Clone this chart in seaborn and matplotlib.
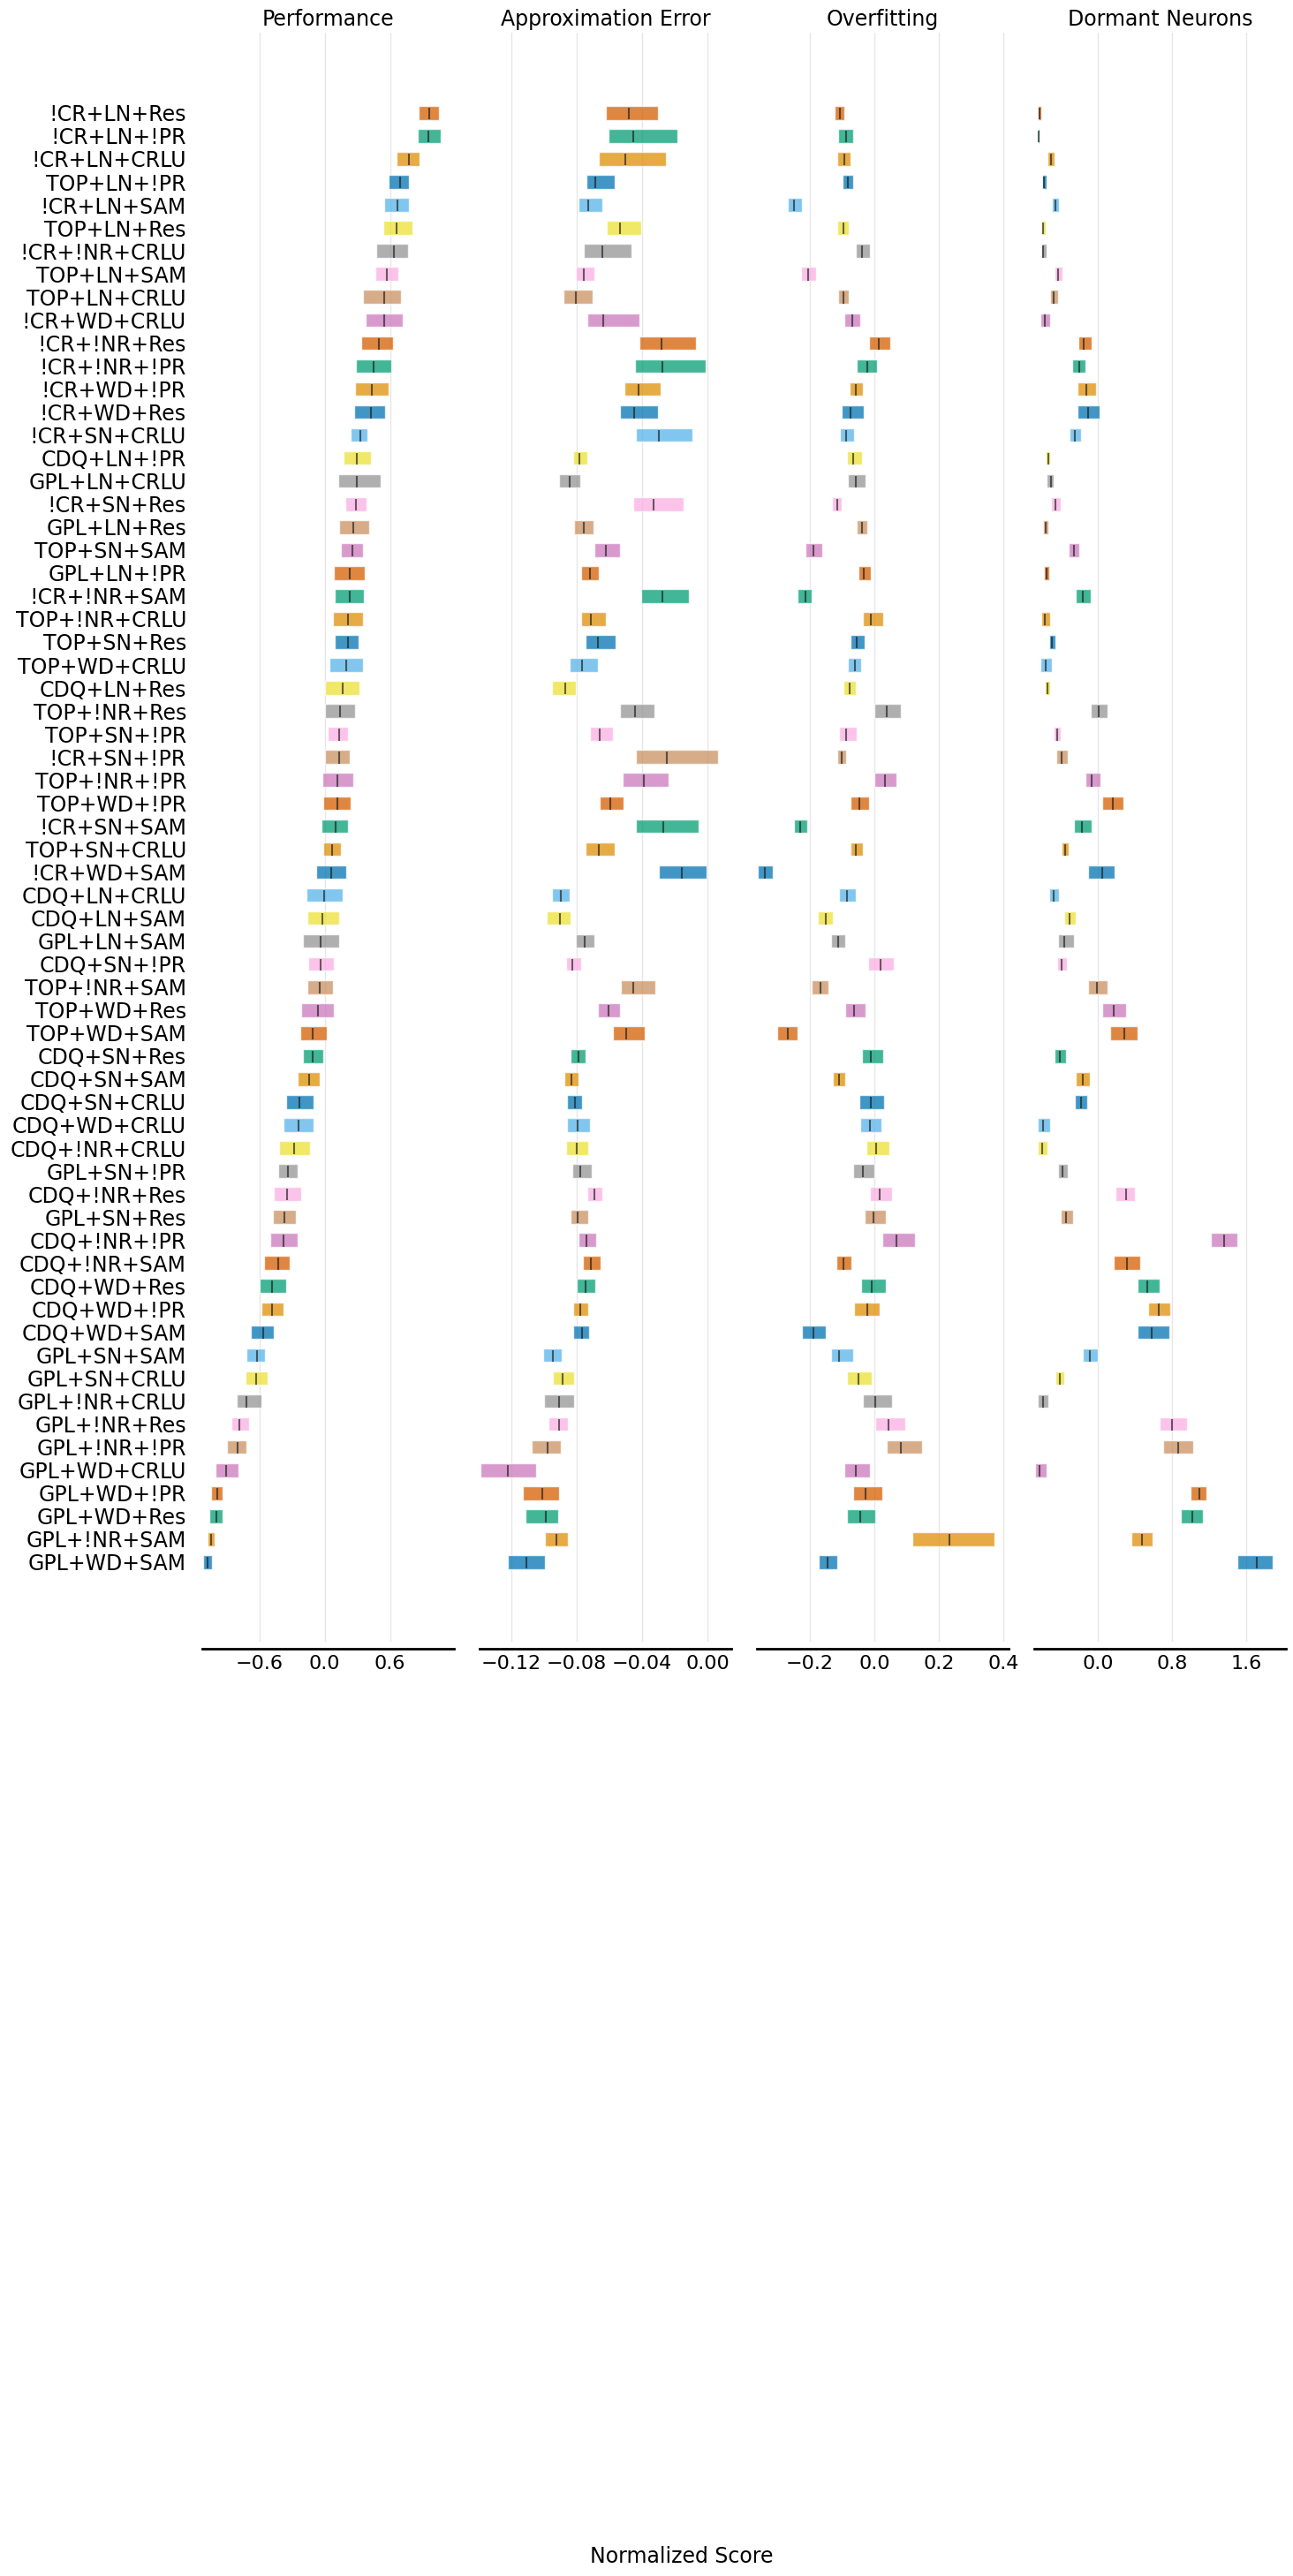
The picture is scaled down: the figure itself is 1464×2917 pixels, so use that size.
import numpy as np
import pandas as pd
import matplotlib
matplotlib.use("Agg")
import matplotlib.pyplot as plt
import seaborn as sns

# Algorithm combinations, listed top to bottom as in the chart
labels = [
    "!CR+LN+Res", "!CR+LN+!PR", "!CR+LN+CRLU", "TOP+LN+!PR", "!CR+LN+SAM",
    "TOP+LN+Res", "!CR+!NR+CRLU", "TOP+LN+SAM", "TOP+LN+CRLU", "!CR+WD+CRLU",
    "!CR+!NR+Res", "!CR+!NR+!PR", "!CR+WD+!PR", "!CR+WD+Res", "!CR+SN+CRLU",
    "CDQ+LN+!PR", "GPL+LN+CRLU", "!CR+SN+Res", "GPL+LN+Res", "TOP+SN+SAM",
    "GPL+LN+!PR", "!CR+!NR+SAM", "TOP+!NR+CRLU", "TOP+SN+Res", "TOP+WD+CRLU",
    "CDQ+LN+Res", "TOP+!NR+Res", "TOP+SN+!PR", "!CR+SN+!PR", "TOP+!NR+!PR",
    "TOP+WD+!PR", "!CR+SN+SAM", "TOP+SN+CRLU", "!CR+WD+SAM", "CDQ+LN+CRLU",
    "CDQ+LN+SAM", "GPL+LN+SAM", "CDQ+SN+!PR", "TOP+!NR+SAM", "TOP+WD+Res",
    "TOP+WD+SAM", "CDQ+SN+Res", "CDQ+SN+SAM", "CDQ+SN+CRLU", "CDQ+WD+CRLU",
    "CDQ+!NR+CRLU", "GPL+SN+!PR", "CDQ+!NR+Res", "GPL+SN+Res", "CDQ+!NR+!PR",
    "CDQ+!NR+SAM", "CDQ+WD+Res", "CDQ+WD+!PR", "CDQ+WD+SAM", "GPL+SN+SAM",
    "GPL+SN+CRLU", "GPL+!NR+CRLU", "GPL+!NR+Res", "GPL+!NR+!PR", "GPL+WD+CRLU",
    "GPL+WD+!PR", "GPL+WD+Res", "GPL+!NR+SAM", "GPL+WD+SAM",
]

# Performance: lower CI, upper CI, point estimate
perf_lo = [0.865, 0.857, 0.662, 0.589, 0.549, 0.541, 0.476, 0.468, 0.354, 0.378,
           0.338, 0.289, 0.281, 0.273, 0.241, 0.176, 0.127, 0.192, 0.135, 0.151,
           0.086, 0.095, 0.078, 0.095, 0.046, 0.005, 0.005, 0.030, 0.005, -0.019,
           -0.011, -0.027, -0.011, -0.076, -0.165, -0.157, -0.197, -0.149, -0.157, -0.214,
           -0.222, -0.197, -0.246, -0.351, -0.376, -0.424, -0.432, -0.465, -0.473, -0.505,
           -0.562, -0.595, -0.586, -0.676, -0.724, -0.732, -0.814, -0.862, -0.903, -1.008,
           -1.049, -1.065, -1.081, -1.122]
perf_hi = [1.051, 1.068, 0.873, 0.776, 0.776, 0.808, 0.768, 0.678, 0.703, 0.719,
           0.630, 0.614, 0.589, 0.557, 0.395, 0.427, 0.516, 0.386, 0.411, 0.354,
           0.370, 0.362, 0.354, 0.314, 0.354, 0.322, 0.281, 0.216, 0.232, 0.265,
           0.241, 0.216, 0.151, 0.200, 0.168, 0.135, 0.135, 0.086, 0.078, 0.086,
           0.022, -0.011, -0.043, -0.100, -0.100, -0.132, -0.246, -0.214, -0.262, -0.246,
           -0.319, -0.359, -0.376, -0.465, -0.546, -0.522, -0.586, -0.700, -0.724, -0.797,
           -0.943, -0.943, -1.016, -1.041]
perf_med = [0.962, 0.954, 0.776, 0.695, 0.670, 0.662, 0.638, 0.573, 0.549, 0.549,
            0.500, 0.451, 0.435, 0.427, 0.330, 0.297, 0.297, 0.289, 0.265, 0.257,
            0.232, 0.232, 0.216, 0.216, 0.200, 0.168, 0.143, 0.135, 0.135, 0.119,
            0.119, 0.103, 0.070, 0.062, -0.003, -0.019, -0.035, -0.035, -0.043, -0.059,
            -0.108, -0.108, -0.141, -0.230, -0.238, -0.278, -0.335, -0.343, -0.368, -0.376,
            -0.432, -0.481, -0.481, -0.570, -0.627, -0.635, -0.724, -0.789, -0.805, -0.911,
            -0.992, -1.000, -1.049, -1.081]

# Approximation Error
ae_lo = [-0.0623, -0.0607, -0.0667, -0.0742, -0.0791, -0.0618, -0.0759, -0.0807, -0.0883, -0.0737,
         -0.0418, -0.0445, -0.0510, -0.0537, -0.0440, -0.0823, -0.0910, -0.0456, -0.0818, -0.0694,
         -0.0775, -0.0407, -0.0775, -0.0748, -0.0845, -0.0953, -0.0537, -0.0721, -0.0440, -0.0521,
         -0.0661, -0.0440, -0.0748, -0.0299, -0.0953, -0.0986, -0.0807, -0.0867, -0.0532, -0.0672,
         -0.0580, -0.0840, -0.0877, -0.0861, -0.0861, -0.0867, -0.0829, -0.0737, -0.0840, -0.0791,
         -0.0764, -0.0802, -0.0823, -0.0823, -0.1007, -0.0948, -0.1002, -0.0975, -0.1077, -0.1391,
         -0.1132, -0.1115, -0.0996, -0.1223]
ae_hi = [-0.0305, -0.0186, -0.0256, -0.0569, -0.0645, -0.0407, -0.0467, -0.0694, -0.0705, -0.0418,
         -0.0072, -0.0013, -0.0288, -0.0305, -0.0094, -0.0737, -0.0780, -0.0148, -0.0699, -0.0537,
         -0.0667, -0.0115, -0.0623, -0.0564, -0.0672, -0.0807, -0.0326, -0.0580, 0.0063, -0.0240,
         -0.0515, -0.0056, -0.0569, -0.0007, -0.0845, -0.0840, -0.0694, -0.0775, -0.0321, -0.0537,
         -0.0386, -0.0748, -0.0791, -0.0769, -0.0721, -0.0732, -0.0710, -0.0645, -0.0732, -0.0683,
         -0.0656, -0.0688, -0.0732, -0.0726, -0.0894, -0.0818, -0.0818, -0.0856, -0.0899, -0.1050,
         -0.0910, -0.0915, -0.0856, -0.0996]
ae_med = [-0.0483, -0.0456, -0.0505, -0.0688, -0.0728, -0.0537, -0.0645, -0.0759, -0.0807, -0.0640,
          -0.0283, -0.0277, -0.0423, -0.0450, -0.0299, -0.0786, -0.0845, -0.0332, -0.0759, -0.0623,
          -0.0721, -0.0277, -0.0715, -0.0672, -0.0769, -0.0872, -0.0445, -0.0661, -0.0250, -0.0391,
          -0.0596, -0.0272, -0.0667, -0.0159, -0.0899, -0.0905, -0.0753, -0.0829, -0.0456, -0.0607,
          -0.0499, -0.0791, -0.0834, -0.0813, -0.0796, -0.0802, -0.0780, -0.0694, -0.0796, -0.0742,
          -0.0715, -0.0748, -0.0780, -0.0769, -0.0948, -0.0888, -0.0910, -0.0910, -0.0980, -0.1223,
          -0.1013, -0.0991, -0.0926, -0.1110]

# Overfitting
of_lo = [-0.1236, -0.1127, -0.1155, -0.0991, -0.2682, -0.1155, -0.0582, -0.2273, -0.1127, -0.0936,
         -0.0173, -0.0555, -0.0773, -0.1018, -0.1073, -0.0855, -0.0827, -0.1318, -0.0555, -0.2136,
         -0.0500, -0.2382, -0.0364, -0.0745, -0.0827, -0.0964, -0.0009, -0.1100, -0.1155, -0.0009,
         -0.0745, -0.2491, -0.0745, -0.3609, -0.1100, -0.1755, -0.1345, -0.0200, -0.1945, -0.0909,
         -0.3009, -0.0391, -0.1291, -0.0473, -0.0445, -0.0255, -0.0664, -0.0145, -0.0309, 0.0236,
         -0.1182, -0.0418, -0.0636, -0.2245, -0.1345, -0.0855, -0.0364, 0.0018, 0.0373, -0.0936,
         -0.0664, -0.0855, 0.1164, -0.1727]
of_hi = [-0.0936, -0.0664, -0.0745, -0.0664, -0.2245, -0.0800, -0.0145, -0.1809, -0.0800, -0.0445,
         0.0482, 0.0073, -0.0364, -0.0336, -0.0636, -0.0391, -0.0282, -0.1018, -0.0227, -0.1618,
         -0.0118, -0.1945, 0.0264, -0.0309, -0.0418, -0.0582, 0.0809, -0.0555, -0.0882, 0.0673,
         -0.0173, -0.2082, -0.0364, -0.3145, -0.0582, -0.1291, -0.0909, 0.0591, -0.1427, -0.0282,
         -0.2382, 0.0264, -0.0909, 0.0291, 0.0209, 0.0455, -0.0009, 0.0536, 0.0345, 0.1245,
         -0.0718, 0.0345, 0.0155, -0.1509, -0.0664, -0.0091, 0.0536, 0.0945, 0.1464, -0.0145,
         0.0236, 0.0018, 0.3727, -0.1155]
of_med = [-0.1073, -0.0882, -0.0936, -0.0827, -0.2491, -0.0964, -0.0391, -0.2055, -0.0964, -0.0691,
          0.0127, -0.0227, -0.0582, -0.0745, -0.0882, -0.0664, -0.0582, -0.1155, -0.0391, -0.1891,
          -0.0336, -0.2136, -0.0118, -0.0555, -0.0609, -0.0773, 0.0373, -0.0882, -0.1018, 0.0318,
          -0.0473, -0.2300, -0.0582, -0.3391, -0.0855, -0.1509, -0.1127, 0.0182, -0.1673, -0.0636,
          -0.2682, -0.0118, -0.1100, -0.0118, -0.0145, 0.0045, -0.0364, 0.0155, -0.0036, 0.0673,
          -0.0964, -0.0091, -0.0227, -0.1891, -0.1100, -0.0500, 0.0018, 0.0427, 0.0809, -0.0582,
          -0.0282, -0.0445, 0.2336, -0.1455]

# Dormant Neurons
dn_lo = [-0.651, -0.651, -0.546, -0.603, -0.498, -0.613, -0.613, -0.470, -0.517, -0.622,
         -0.213, -0.279, -0.222, -0.222, -0.308, -0.565, -0.556, -0.508, -0.594, -0.317,
         -0.584, -0.241, -0.613, -0.527, -0.622, -0.575, -0.079, -0.479, -0.451, -0.137,
         0.044, -0.260, -0.394, -0.108, -0.527, -0.365, -0.432, -0.441, -0.108, 0.044,
         0.130, -0.470, -0.241, -0.251, -0.651, -0.651, -0.432, 0.187, -0.403, 1.216,
         0.168, 0.425, 0.540, 0.425, -0.165, -0.460, -0.651, 0.663, 0.702, -0.679,
         0.997, 0.892, 0.359, 1.502]
dn_hi = [-0.613, -0.632, -0.470, -0.556, -0.422, -0.565, -0.556, -0.384, -0.432, -0.517,
         -0.070, -0.137, -0.022, 0.016, -0.184, -0.517, -0.479, -0.403, -0.537, -0.203,
         -0.527, -0.079, -0.517, -0.460, -0.498, -0.517, 0.102, -0.403, -0.327, 0.025,
         0.273, -0.070, -0.317, 0.178, -0.422, -0.241, -0.260, -0.337, 0.102, 0.302,
         0.425, -0.346, -0.089, -0.117, -0.517, -0.546, -0.327, 0.397, -0.270, 1.502,
         0.454, 0.663, 0.778, 0.768, -0.003, -0.365, -0.537, 0.959, 1.025, -0.556,
         1.168, 1.130, 0.587, 1.883]
dn_med = [-0.632, -0.641, -0.508, -0.584, -0.460, -0.594, -0.594, -0.432, -0.479, -0.575,
          -0.156, -0.203, -0.127, -0.108, -0.251, -0.537, -0.508, -0.460, -0.565, -0.260,
          -0.556, -0.165, -0.575, -0.498, -0.565, -0.546, 0.006, -0.441, -0.394, -0.070,
          0.159, -0.175, -0.356, 0.044, -0.479, -0.308, -0.365, -0.394, -0.013, 0.168,
          0.283, -0.413, -0.165, -0.184, -0.594, -0.603, -0.384, 0.302, -0.346, 1.359,
          0.311, 0.530, 0.654, 0.578, -0.089, -0.413, -0.594, 0.797, 0.863, -0.632,
          1.092, 1.016, 0.473, 1.711]

titles = ["Performance", "Approximation Error", "Overfitting", "Dormant Neurons"]
xticks = [[-0.6, 0.0, 0.6], [-0.12, -0.08, -0.04, 0.00], [-0.2, 0.0, 0.2, 0.4], [0.0, 0.8, 1.6]]
xlims = [(-1.127, 1.189), (-0.1395, 0.0146), (-0.3636, 0.4155), (-0.689, 2.025)]


def main():
    sns.set_theme(style="white", rc={"text.color": "black",
                                     "xtick.color": "black",
                                     "ytick.color": "black"})
    palette = sns.color_palette("colorblind")

    W, H = 1464, 2917
    fig = plt.figure(figsize=(W / 100, H / 100), dpi=100)

    # y positions: first label on top, colours cycle from the bottom row
    n = len(labels)
    ypos = np.arange(n)[::-1]
    colors = [palette[i % len(palette)] for i in ypos]
    height = 0.6

    data = [(perf_lo, perf_hi, perf_med), (ae_lo, ae_hi, ae_med),
            (of_lo, of_hi, of_med), (dn_lo, dn_hi, dn_med)]
    lefts = [229, 543, 857, 1171]

    for k, (lo, hi, med) in enumerate(data):
        df = pd.DataFrame({"label": labels, "lo": lo, "hi": hi, "med": med, "y": ypos})
        ax = fig.add_axes([lefts[k] / W, (H - 1859) / H, 285 / W, 1822 / H])

        # interval bars + point estimate ticks
        ax.barh(df["y"], df["hi"] - df["lo"], left=df["lo"], height=height,
                color=colors, alpha=0.75)
        ax.vlines(df["med"], df["y"] - 7.5 * height / 16, df["y"] + 6 * height / 16,
                  color="k", alpha=0.65, linewidth=1.5)

        ax.set_xlim(*xlims[k])
        ax.set_ylim(-3.46, 66.49)
        ax.set_xticks(xticks[k])
        ax.grid(axis="x", color="#e6e6e6", linewidth=1.0)
        ax.set_axisbelow(True)

        for side in ["top", "right", "left"]:
            ax.spines[side].set_visible(False)
        ax.spines["bottom"].set_position(("outward", 5.8))
        ax.spines["bottom"].set_linewidth(2.0)
        ax.spines["bottom"].set_color("black")

        ax.tick_params(axis="x", length=0, pad=5, labelsize=16)
        if k == 0:
            ax.set_yticks(df["y"])
            ax.set_yticklabels(df["label"])
            ax.tick_params(axis="y", length=0, pad=13, labelsize=17)
        else:
            ax.set_yticks([])

        ax.set_title(titles[k], fontsize=17, pad=5.8)

    fig.text(772 / W, 10 / H, "Normalized Score", ha="center", va="bottom", fontsize=17)
    fig.savefig("out.png", dpi=100)


if __name__ == "__main__":
    main()
